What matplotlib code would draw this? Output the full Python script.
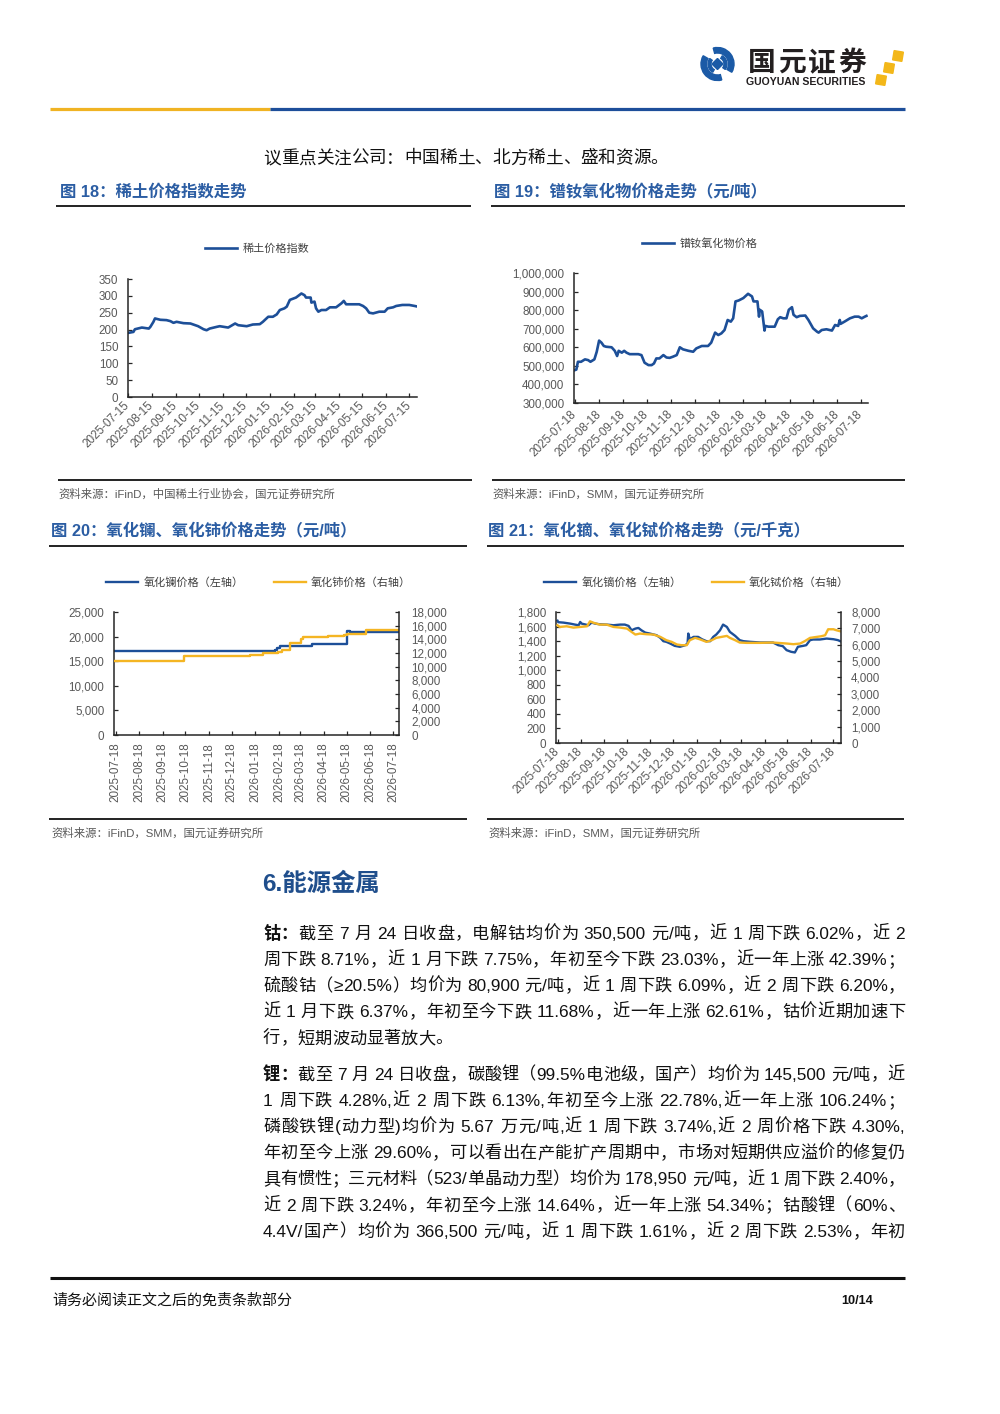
import matplotlib
matplotlib.use('Agg')
import matplotlib.pyplot as plt
from matplotlib.ticker import FuncFormatter
from matplotlib.patches import RegularPolygon, Wedge
import pandas as pd

plt.rcParams['font.family'] = ['Liberation Sans', 'Noto Sans CJK SC', 'DejaVu Sans']

# ---------------- data ----------------
# Fig 18: rare-earth price index
re_dates = ['2025-07-15', '2025-07-22', '2025-07-24', '2025-08-02', '2025-08-11', '2025-08-13',
            '2025-08-17', '2025-08-19', '2025-08-26', '2025-09-03', '2025-09-08', '2025-09-12',
            '2025-09-16', '2025-09-25', '2025-10-04', '2025-10-14', '2025-10-21', '2025-10-25',
            '2025-10-29', '2025-11-07', '2025-11-11', '2025-11-22', '2025-12-01', '2025-12-05',
            '2025-12-16', '2025-12-24', '2026-01-02', '2026-01-06', '2026-01-13', '2026-01-19',
            '2026-01-24', '2026-01-28', '2026-02-03', '2026-02-06', '2026-02-10', '2026-02-18',
            '2026-02-25', '2026-03-01', '2026-03-03', '2026-03-09', '2026-03-10', '2026-03-14',
            '2026-03-16', '2026-03-19', '2026-03-23', '2026-03-29', '2026-04-03', '2026-04-11',
            '2026-04-18', '2026-04-21', '2026-04-24', '2026-05-11', '2026-05-16', '2026-05-20',
            '2026-05-24', '2026-05-29', '2026-06-06', '2026-06-13', '2026-06-17', '2026-06-24',
            '2026-06-28', '2026-07-06', '2026-07-15', '2026-07-22', '2026-07-24']
re_index = [190, 193, 201, 206, 203, 208,
            223, 233, 229, 228, 225, 220,
            223, 219, 218, 210, 201, 198,
            203, 208, 210, 206, 218, 213,
            210, 215, 216, 223, 238, 238,
            245, 258, 263, 268, 288, 295,
            307, 302, 295, 295, 280, 283,
            263, 253, 258, 258, 266, 266,
            278, 285, 275, 275, 270, 263,
            250, 248, 253, 253, 263, 266,
            270, 273, 273, 270, 269]
re_ticks = ['2025-07-15', '2025-08-15', '2025-09-15', '2025-10-15', '2025-11-15', '2025-12-15',
            '2026-01-15', '2026-02-15', '2026-03-15', '2026-04-15', '2026-05-15', '2026-06-15',
            '2026-07-15']

# Fig 19: PrNd oxide price (yuan/t)
prnd_dates = ['2025-07-18', '2025-07-20', '2025-07-22', '2025-07-26', '2025-07-31', '2025-08-04',
              '2025-08-07', '2025-08-12', '2025-08-15', '2025-08-18', '2025-08-21', '2025-08-24',
              '2025-08-27', '2025-09-03', '2025-09-07', '2025-09-10', '2025-09-12', '2025-09-16',
              '2025-09-19', '2025-09-22', '2025-09-26', '2025-10-07', '2025-10-11', '2025-10-15',
              '2025-10-20', '2025-10-24', '2025-10-27', '2025-10-30', '2025-11-03', '2025-11-08',
              '2025-11-12', '2025-11-16', '2025-11-20', '2025-11-25', '2025-11-29', '2025-12-03',
              '2025-12-10', '2025-12-16', '2025-12-20', '2025-12-27', '2026-01-04', '2026-01-08',
              '2026-01-13', '2026-01-17', '2026-01-21', '2026-01-25', '2026-01-29', '2026-02-02',
              '2026-02-05', '2026-02-08', '2026-02-12', '2026-02-18', '2026-02-24', '2026-03-01',
              '2026-03-03', '2026-03-08', '2026-03-10', '2026-03-11', '2026-03-14', '2026-03-17',
              '2026-03-18', '2026-03-22', '2026-03-30', '2026-04-03', '2026-04-06', '2026-04-10',
              '2026-04-14', '2026-04-17', '2026-04-21', '2026-04-23', '2026-04-27', '2026-05-01',
              '2026-05-08', '2026-05-12', '2026-05-18', '2026-05-23', '2026-05-25', '2026-05-29',
              '2026-06-04', '2026-06-11', '2026-06-15', '2026-06-19', '2026-06-21', '2026-06-22',
              '2026-06-27', '2026-07-04', '2026-07-10', '2026-07-15', '2026-07-19', '2026-07-23',
              '2026-07-25']
prnd_price = [477000, 480000, 522000, 522000, 535000, 531000,
              522000, 535000, 576000, 636000, 625000, 607000,
              603000, 600000, 581000, 553000, 581000, 571000,
              581000, 571000, 563000, 563000, 558000, 517000,
              504000, 504000, 513000, 540000, 540000, 558000,
              545000, 543000, 549000, 558000, 600000, 589000,
              581000, 576000, 594000, 607000, 607000, 625000,
              679000, 666000, 675000, 693000, 747000, 738000,
              756000, 847000, 852000, 865000, 888000, 874000,
              847000, 847000, 765000, 802000, 793000, 690000,
              715000, 711000, 711000, 751000, 762000, 756000,
              756000, 802000, 816000, 775000, 762000, 769000,
              771000, 747000, 702000, 684000, 679000, 693000,
              697000, 690000, 720000, 715000, 747000, 726000,
              738000, 756000, 765000, 765000, 756000, 765000,
              769000]
mo_ticks = ['2025-07-18', '2025-08-18', '2025-09-18', '2025-10-18', '2025-11-18', '2025-12-18',
            '2026-01-18', '2026-02-18', '2026-03-18', '2026-04-18', '2026-05-18', '2026-06-18',
            '2026-07-18']

# Fig 20: lanthanum oxide (left) & cerium oxide (right), yuan/t, step series
la_dates = ['2025-07-16', '2026-02-13', '2026-02-16', '2026-02-20', '2026-04-03', '2026-05-19',
            '2026-05-22', '2026-07-26']
la_price = [17000, 17300, 17700, 18000, 18400, 21200, 21000, 21000]
ce_dates = ['2025-07-16', '2025-10-16', '2026-01-11', '2026-01-28', '2026-02-17', '2026-02-22',
            '2026-03-04', '2026-03-19', '2026-03-22', '2026-04-23', '2026-05-14', '2026-05-18',
            '2026-06-12', '2026-07-26']
ce_price = [10850, 11500, 11700, 12000, 12200, 12400, 13500, 14100, 14300, 14500, 14700, 14850,
            15400, 15400]

# Fig 21: dysprosium oxide (left) & terbium oxide (right), yuan/kg
dy_dates = ['2025-07-18', '2025-07-19', '2025-07-26', '2025-08-04', '2025-08-10', '2025-08-15',
            '2025-08-17', '2025-08-19', '2025-08-28', '2025-09-01', '2025-09-06', '2025-09-12',
            '2025-09-21', '2025-09-30', '2025-10-09', '2025-10-15', '2025-10-20', '2025-10-24',
            '2025-10-29', '2025-11-02', '2025-11-06', '2025-11-11', '2025-11-17', '2025-11-26',
            '2025-12-01', '2025-12-05', '2025-12-09', '2025-12-14', '2025-12-20', '2025-12-27',
            '2026-01-03', '2026-01-06', '2026-01-07', '2026-01-09', '2026-01-14', '2026-01-20',
            '2026-01-25', '2026-01-31', '2026-02-05', '2026-02-09', '2026-02-13', '2026-02-18',
            '2026-02-22', '2026-02-27', '2026-03-03', '2026-03-10', '2026-03-16', '2026-03-21',
            '2026-03-30', '2026-04-12', '2026-04-29', '2026-05-06', '2026-05-12', '2026-05-17',
            '2026-05-23', '2026-05-28', '2026-06-01', '2026-06-08', '2026-06-12', '2026-06-17',
            '2026-06-21', '2026-06-30', '2026-07-09', '2026-07-18', '2026-07-24', '2026-07-27']
dy_price = [1680, 1660, 1654, 1640, 1627, 1618,
            1663, 1640, 1618, 1654, 1640, 1631,
            1627, 1618, 1627, 1627, 1609, 1549,
            1572, 1581, 1549, 1517, 1504, 1481,
            1445, 1399, 1390, 1367, 1335, 1322,
            1344, 1367, 1504, 1426, 1458, 1458,
            1426, 1399, 1399, 1458, 1490, 1549,
            1627, 1595, 1527, 1472, 1413, 1399,
            1390, 1381, 1381, 1344, 1331, 1276,
            1253, 1244, 1322, 1335, 1344, 1413,
            1422, 1422, 1435, 1426, 1413, 1399]
tb_dates = ['2025-07-18', '2025-07-21', '2025-07-30', '2025-08-08', '2025-08-17', '2025-08-26',
            '2025-08-30', '2025-09-03', '2025-09-12', '2025-09-21', '2025-09-30', '2025-10-09',
            '2025-10-18', '2025-10-24', '2025-10-29', '2025-11-04', '2025-11-13', '2025-11-22',
            '2025-12-01', '2025-12-09', '2025-12-16', '2025-12-23', '2025-12-29', '2026-01-05',
            '2026-01-09', '2026-01-16', '2026-01-22', '2026-01-31', '2026-02-07', '2026-02-13',
            '2026-02-20', '2026-02-27', '2026-03-03', '2026-03-10', '2026-03-16', '2026-03-25',
            '2026-04-12', '2026-04-29', '2026-05-17', '2026-05-26', '2026-06-04', '2026-06-10',
            '2026-06-17', '2026-06-26', '2026-07-02', '2026-07-07', '2026-07-11', '2026-07-18',
            '2026-07-22', '2026-07-27']
tb_price = [7190, 7088, 7128, 7047, 7088, 7128,
            7432, 7351, 7229, 7229, 7088, 7047,
            6986, 6784, 6622, 6683, 6642, 6622,
            6480, 6278, 6176, 6014, 5974, 5974,
            6278, 6419, 6338, 6176, 6278, 6419,
            6480, 6541, 6419, 6278, 6136, 6115,
            6115, 6136, 6075, 6034, 6075, 6217,
            6419, 6480, 6520, 6581, 6946, 6946,
            6885, 6824]

# ---------------- text ----------------
top_line = '议重点关注公司：中国稀土、北方稀土、盛和资源。'
titles = ['图 18：稀土价格指数走势', '图 19：镨钕氧化物价格走势（元/吨）',
          '图 20：氧化镧、氧化铈价格走势（元/吨）', '图 21：氧化镝、氧化铽价格走势（元/千克）']
sources = ['资料来源：iFinD，中国稀土行业协会，国元证券研究所', '资料来源：iFinD，SMM，国元证券研究所',
           '资料来源：iFinD，SMM，国元证券研究所', '资料来源：iFinD，SMM，国元证券研究所']
heading = '6.能源金属'
co_lines = ['截至 7 月 24 日收盘，电解钴均价为 350,500 元/吨，近 1 周下跌 6.02%，近 2',
            '周下跌 8.71%，近 1 月下跌 7.75%，年初至今下跌 23.03%，近一年上涨 42.39%；',
            '硫酸钴（≥20.5%）均价为 80,900 元/吨，近 1 周下跌 6.09%，近 2 周下跌 6.20%，',
            '近 1 月下跌 6.37%，年初至今下跌 11.68%，近一年上涨 62.61%，钴价近期加速下',
            '行，短期波动显著放大。']
li_lines = ['截至 7 月 24 日收盘，碳酸锂（99.5%电池级，国产）均价为 145,500 元/吨，近',
            '1 周下跌 4.28%,近 2 周下跌 6.13%,年初至今上涨 22.78%,近一年上涨 106.24%；',
            '磷酸铁锂(动力型)均价为 5.67 万元/吨,近 1 周下跌 3.74%,近 2 周价格下跌 4.30%,',
            '年初至今上涨 29.60%，可以看出在产能扩产周期中，市场对短期供应溢价的修复仍',
            '具有惯性；三元材料（523/单晶动力型）均价为 178,950 元/吨，近 1 周下跌 2.40%，',
            '近 2 周下跌 3.24%，年初至今上涨 14.64%，近一年上涨 54.34%；钴酸锂（60%、',
            '4.4V/国产）均价为 366,500 元/吨，近 1 周下跌 1.61%，近 2 周下跌 2.53%，年初']

# ---------------- style ----------------
W, H = 1000, 1414
BLUE = '#1D4F98'
GOLD = '#F4B523'
TBLUE = '#2B5DA3'
GRAY = '#595959'
SPINE = '#262626'
LOGO = '#1B5AA6'

fig = plt.figure(figsize=(10, 14.14), dpi=100)
fig.patch.set_facecolor('white')

ov = fig.add_axes([0, 0, 1, 1])
ov.set_xlim(0, W)
ov.set_ylim(H, 0)
ov.axis('off')

renderer = fig.canvas.get_renderer()


def hline(x0, x1, y, color='#111111', lw=1.2):
    ov.plot([x0, x1], [y, y], color=color, lw=lw, solid_capstyle='butt')


# header logo
cx, cy = 717.5, 64
ov.add_patch(Wedge((cx, cy), 16.5, 75, 210, width=5.5, color=LOGO))
ov.add_patch(Wedge((cx, cy), 16.5, 255, 390, width=5.5, color=LOGO))
ov.add_patch(Wedge((cx, cy), 9.5, 120, 215, width=3, color=LOGO))
ov.add_patch(Wedge((cx, cy), 9.5, 300, 395, width=3, color=LOGO))
ov.add_patch(RegularPolygon((cx, cy), 4, radius=5.5, orientation=0, color=LOGO))
for i, ch in enumerate('国元证券'):
    ov.text(762 + 30 * i, 63, ch, fontsize=20, weight='bold', color='#231F20',
            ha='center', va='center', family=['Noto Sans CJK SC'])
ov.text(746, 82, 'GUOYUAN SECURITIES', fontsize=7.6, weight='bold', color='#231F20',
        ha='left', va='center')
for (sx, sy) in [(881, 80), (889, 68), (898, 56)]:
    ov.add_patch(RegularPolygon((sx, sy), 4, radius=6.6, orientation=0.95, color='#F3B719'))
hline(50, 270, 108.5, color='#F0B323', lw=2.3)
hline(270, 905, 108.5, color='#1D4E9A', lw=2.3)


# ---------------- text helpers ----------------
_w0 = {}


def adv(tok, size, weight):
    key = (size, weight)
    if key not in _w0:
        t = ov.text(0, 0, '||', fontsize=size, weight=weight)
        _w0[key] = t.get_window_extent(renderer).width
        t.remove()
    t = ov.text(0, 0, '|' + tok + '|', fontsize=size, weight=weight)
    w = t.get_window_extent(renderer).width
    t.remove()
    return w - _w0[key]


def tokenize(s):
    toks, buf = [], ''
    for ch in s:
        if ord(ch) < 0x2000 and ch != ' ':
            buf += ch
        else:
            if buf:
                toks.append(buf)
                buf = ''
            toks.append(ch)
    if buf:
        toks.append(buf)
    return toks


def draw_line(segments, x0, x1, y, size=12.4, justify=True, color='#111111'):
    items = []
    for text, weight in segments:
        for tk in tokenize(text):
            items.append((tk, weight))
    widths = [adv(tk, size, wt) for tk, wt in items]
    gap = (x1 - x0 - sum(widths)) / (len(items) - 1) if justify else 0.0
    x = x0
    for (tk, wt), w in zip(items, widths):
        if tk != ' ':
            ov.text(x, y, tk, fontsize=size, weight=wt, color=color, ha='left', va='baseline')
        x += w + gap


# top sentence
draw_line([(top_line, 'normal')], 263, 905, 163.5, size=12.7, justify=False)

# figure titles, rules, sources
title_pos = [(60, 192), (494, 192), (51, 531), (488, 531)]
under = [(56, 471, 205.5), (491, 905, 205.5), (49, 467, 545.7), (487, 904, 545.7)]
src_line = [(58, 472, 479.5), (492, 905, 479.5), (49, 467, 819), (487, 904, 819)]
src_pos = [(58, 494), (492, 494), (51, 833), (488, 833)]
for i in range(4):
    ov.text(title_pos[i][0], title_pos[i][1], titles[i], fontsize=11.8, weight='bold',
            color=TBLUE, ha='left', va='center')
    hline(under[i][0], under[i][1], under[i][2], lw=1.3)
    hline(src_line[i][0], src_line[i][1], src_line[i][2], lw=1.3)
    ov.text(src_pos[i][0], src_pos[i][1], sources[i], fontsize=8.2, color=GRAY,
            ha='left', va='center')

# section heading + paragraphs
ov.text(262, 884, heading, fontsize=17.6, weight='bold', color='#1F4E8C', ha='left', va='center')
for i, ln in enumerate(co_lines):
    segs = [('钴：', 'bold'), (ln, 'normal')] if i == 0 else [(ln, 'normal')]
    draw_line(segs, 263, 905, 938.6 + 26.2 * i, justify=(i < len(co_lines) - 1))
for i, ln in enumerate(li_lines):
    segs = [('锂：', 'bold'), (ln, 'normal')] if i == 0 else [(ln, 'normal')]
    draw_line(segs, 263, 905, 1079.6 + 26.2 * i, justify=True)

# footer
hline(50, 905, 1278, lw=2.2)
ov.text(52, 1301, '请务必阅读正文之后的免责条款部分', fontsize=10.8, color='#111111',
        ha='left', va='center')
ov.text(841, 1301, '10/14', fontsize=9.2, weight='bold', color='#111111', ha='left', va='center')


# ---------------- charts ----------------
def px_axes(x0, y0, x1, y1):
    return fig.add_axes([x0 / W, 1 - y1 / H, (x1 - x0) / W, (y1 - y0) / H])


thou = FuncFormatter(lambda v, p: f'{v:,.0f}')


def style(ax, ypad):
    ax.spines['top'].set_visible(False)
    ax.spines['right'].set_visible(False)
    for sp in ('left', 'bottom'):
        ax.spines[sp].set_color(SPINE)
        ax.spines[sp].set_linewidth(1.1)
    ax.tick_params(direction='in', length=3.2, width=0.9, color=SPINE, labelsize=8.4,
                   labelcolor=GRAY)
    ax.tick_params(axis='y', pad=ypad)


def style_right(ax2, pad):
    for sp in ('top', 'left', 'bottom'):
        ax2.spines[sp].set_visible(False)
    ax2.spines['right'].set_color(SPINE)
    ax2.spines['right'].set_linewidth(1.1)
    ax2.tick_params(direction='in', length=3.2, width=0.9, color=SPINE, labelsize=8.4,
                    labelcolor=GRAY, pad=pad)


def legend(ax, handles, x, y, colsp=2.7):
    ax.legend(handles, [h.get_label() for h in handles], loc='center left',
              bbox_to_anchor=(x / W, 1 - y / H), bbox_transform=fig.transFigure,
              frameon=False, ncol=len(handles), fontsize=8, handlelength=2.9,
              handletextpad=0.45, columnspacing=colsp, borderpad=0, borderaxespad=0,
              labelcolor='#404040')


def month_ticks(ax, labels, rot):
    ax.set_xticks(pd.to_datetime(labels))
    if rot == 45:
        ax.set_xticklabels(labels, rotation=45, ha='right', va='center', rotation_mode='anchor')
    else:
        ax.set_xticklabels(labels, rotation=90, ha='center', va='top')


# Fig 18
ax = px_axes(128, 279, 417, 397)
l1, = ax.plot(pd.to_datetime(re_dates), re_index, color=BLUE, lw=1.9, label='稀土价格指数')
ax.set_ylim(0, 350)
ax.set_yticks(range(0, 351, 50))
ax.set_xlim(pd.Timestamp('2025-07-15'), pd.Timestamp('2026-07-25'))
month_ticks(ax, re_ticks, 45)
style(ax, 7)
ax.tick_params(axis='x', pad=5)
legend(ax, [l1], 205, 249)

# Fig 19
ax = px_axes(574, 273, 868, 403)
l1, = ax.plot(pd.to_datetime(prnd_dates), prnd_price, color=BLUE, lw=1.9, label='镨钕氧化物价格')
ax.set_ylim(300000, 1000000)
ax.set_yticks(range(300000, 1000001, 100000))
ax.yaxis.set_major_formatter(thou)
ax.set_xlim(pd.Timestamp('2025-07-17'), pd.Timestamp('2026-07-27'))
month_ticks(ax, mo_ticks, 45)
style(ax, 7)
ax.tick_params(axis='x', pad=7)
legend(ax, [l1], 642, 243)

# Fig 20
ax = px_axes(114, 612, 399, 735)
l1, = ax.step(pd.to_datetime(la_dates), la_price, where='post', color=BLUE, lw=1.7,
              label='氧化镧价格（左轴）')
ax.set_ylim(0, 25000)
ax.set_yticks(range(0, 25001, 5000))
ax.yaxis.set_major_formatter(thou)
ax.set_xlim(pd.Timestamp('2025-07-16'), pd.Timestamp('2026-07-26'))
month_ticks(ax, mo_ticks, 90)
style(ax, 7)
ax.tick_params(axis='x', pad=5.5)
ax2 = ax.twinx()
l2, = ax2.step(pd.to_datetime(ce_dates), ce_price, where='post', color=GOLD, lw=1.7,
               label='氧化铈价格（右轴）')
ax2.set_ylim(0, 18000)
ax2.set_yticks(range(0, 18001, 2000))
ax2.yaxis.set_major_formatter(thou)
style_right(ax2, 9)
legend(ax, [l1, l2], 106, 582, colsp=2.75)

# Fig 21
ax = px_axes(556, 612, 841, 743)
l1, = ax.plot(pd.to_datetime(dy_dates), dy_price, color=BLUE, lw=1.7, label='氧化镝价格（左轴）')
ax.set_ylim(0, 1800)
ax.set_yticks(range(0, 1801, 200))
ax.yaxis.set_major_formatter(thou)
ax.set_xlim(pd.Timestamp('2025-07-16'), pd.Timestamp('2026-07-28'))
month_ticks(ax, mo_ticks, 45)
style(ax, 7)
ax.tick_params(axis='x', pad=5)
ax2 = ax.twinx()
l2, = ax2.plot(pd.to_datetime(tb_dates), tb_price, color=GOLD, lw=1.7, label='氧化铽价格（右轴）')
ax2.set_ylim(0, 8000)
ax2.set_yticks(range(0, 8001, 1000))
ax2.yaxis.set_major_formatter(thou)
style_right(ax2, 7.2)
legend(ax, [l1, l2], 544, 582, colsp=2.75)

fig.savefig('out.png', dpi=100, facecolor='white')
